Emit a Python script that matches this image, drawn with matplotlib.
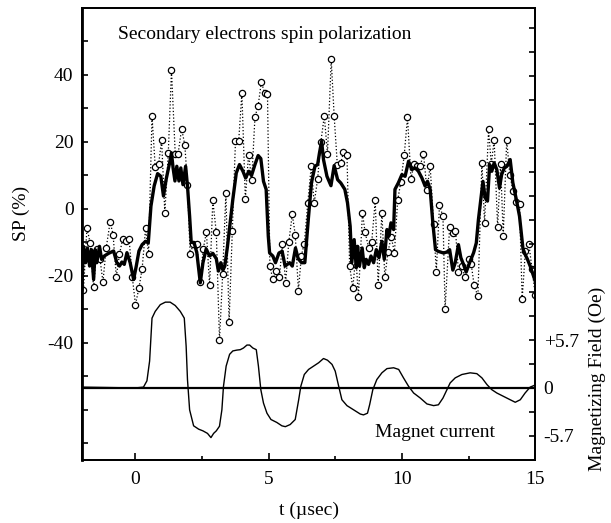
import numpy as np
import matplotlib
matplotlib.use("Agg")
import matplotlib.pyplot as plt

# measured spin polarization (dotted, open circles)
t_raw = [-1.94, -1.81, -1.69, -1.56, -1.44, -1.32, -1.21, -1.09, -0.94, -0.83,
         -0.71, -0.59, -0.47, -0.35, -0.23, -0.11, 0.01, 0.14, 0.26, 0.39,
         0.50, 0.63, 0.75, 0.88, 0.99, 1.11, 1.24, 1.36, 1.50, 1.61,
         1.74, 1.86, 1.96, 2.06, 2.18, 2.31, 2.43, 2.55, 2.67, 2.79,
         2.91, 3.04, 3.16, 3.28, 3.40, 3.52, 3.64, 3.76, 3.88, 4.00,
         4.13, 4.25, 4.37, 4.49, 4.61, 4.73, 4.85, 4.96, 5.05, 5.16,
         5.29, 5.41, 5.52, 5.64, 5.76, 5.89, 6.00, 6.12, 6.23, 6.34,
         6.47, 6.60, 6.71, 6.84, 6.96, 7.09, 7.21, 7.35, 7.46, 7.58,
         7.71, 7.81, 7.94, 8.04, 8.16, 8.27, 8.37, 8.52, 8.62, 8.76,
         8.87, 9.00, 9.11, 9.25, 9.36, 9.48, 9.60, 9.72, 9.84, 9.96,
         10.09, 10.21, 10.34, 10.46, 10.56, 10.69, 10.81, 10.94, 11.06, 11.19,
         11.29, 11.41, 11.54, 11.62, 11.79, 11.90, 12.01, 12.12, 12.25, 12.36,
         12.50, 12.60, 12.71, 12.85, 13.00, 13.10, 13.25, 13.35, 13.46, 13.59,
         13.70, 13.80, 13.93, 14.05, 14.17, 14.29, 14.41, 14.51, 14.63, 14.76,
         14.88, 15.00]
sp_raw = [-24.3, -5.7, -10.2, -23.5, -12.0, -15.0, -21.9, -11.8, -3.9, -7.7,
          -20.3, -13.6, -9.0, -9.7, -9.0, -20.3, -28.6, -23.6, -17.9, -5.8,
          -13.6, 27.7, 12.6, 13.5, 20.5, -1.2, 16.6, 41.4, 16.5, 16.5,
          23.9, 19.1, 7.2, -13.6, -10.4, -10.4, -22.0, -12.0, -7.0, -22.9,
          2.5, -7.0, -39.2, -19.4, 4.7, -33.9, -6.6, 20.3, 20.2, 34.6,
          3.0, 16.2, 8.7, 27.4, 30.8, 37.9, 34.6, 34.4, -17.1, -21.1,
          -18.6, -20.3, -10.4, -22.1, -9.8, -1.7, -7.7, -24.4, -14.0, -10.4,
          1.6, 12.7, 1.6, 8.9, 19.9, 27.7, 16.5, 44.6, 27.7, 13.0,
          13.7, 16.9, 16.2, -17.1, -23.6, -14.0, -26.3, -1.2, -7.0, -11.8,
          -9.8, 2.5, -22.7, -1.2, -20.4, -12.8, -8.4, -13.1, 2.5, 8.0,
          16.2, 27.4, 8.9, 13.5, 12.9, 12.9, 16.5, 5.6, 12.7, -4.4,
          -18.8, 1.1, -2.3, -29.9, -5.4, -7.2, -6.5, -18.9, -17.1, -20.4,
          -15.1, -16.6, -22.9, -26.1, 13.7, -4.2, 23.7, 13.4, 20.4, -5.4,
          13.5, -8.0, 20.4, 10.0, 5.3, 2.0, 1.5, -26.9, -12.7, -10.4,
          -18.1, -25.6]

# smoothed spin polarization (thick line)
t_avg = [-2.00, -1.94, -1.86, -1.79, -1.71, -1.64, -1.56, -1.50, -1.44, -1.34,
         -1.26, -1.16, -1.00, -0.81, -0.69, -0.59, -0.50, -0.41, -0.31, -0.19,
         -0.06, 0.04, 0.14, 0.26, 0.39, 0.49, 0.59, 0.71, 0.84, 0.96,
         1.06, 1.16, 1.29, 1.36, 1.42, 1.49, 1.56, 1.64, 1.71, 1.79,
         1.89, 1.96, 2.04, 2.10, 2.21, 2.31, 2.44, 2.54, 2.66, 2.79,
         2.91, 3.04, 3.12, 3.21, 3.29, 3.36, 3.46, 3.56, 3.66, 3.79,
         3.91, 4.04, 4.14, 4.26, 4.36, 4.49, 4.61, 4.71, 4.81, 4.91,
         4.99, 5.04, 5.16, 5.26, 5.39, 5.51, 5.62, 5.79, 5.89, 6.01,
         6.11, 6.24, 6.36, 6.49, 6.61, 6.74, 6.84, 6.91, 6.99, 7.06,
         7.19, 7.34, 7.46, 7.59, 7.71, 7.86, 7.96, 8.06, 8.12, 8.21,
         8.29, 8.34, 8.41, 8.51, 8.59, 8.66, 8.75, 8.84, 8.94, 9.04,
         9.14, 9.25, 9.34, 9.44, 9.51, 9.59, 9.69, 9.74, 9.87, 10.00,
         10.12, 10.25, 10.37, 10.50, 10.62, 10.75, 10.87, 10.96, 11.06, 11.16,
         11.26, 11.36, 11.56, 11.69, 11.79, 11.91, 12.00, 12.12, 12.21, 12.31,
         12.41, 12.54, 12.69, 12.79, 12.87, 12.96, 13.04, 13.12, 13.21, 13.29,
         13.37, 13.46, 13.56, 13.66, 13.74, 13.84, 13.94, 14.06, 14.16, 14.29,
         14.41, 14.54, 14.62, 14.71, 14.81, 15.00]
sp_avg = [-24.1, -11.2, -16.1, -11.7, -17.1, -12.2, -21.1, -12.2, -16.1, -11.2,
          -15.1, -14.1, -13.3, -12.6, -16.1, -17.1, -15.9, -16.6, -13.1, -16.1,
          -21.1, -17.1, -12.6, -10.7, -9.7, -10.2, 0.8, 6.8, 10.5, 9.7,
          3.8, 8.8, 13.7, 16.7, 12.2, 8.3, 12.7, 8.3, 12.2, 7.2,
          12.7, 6.8, -2.2, -10.0, -10.2, -13.1, -22.1, -16.1, -12.0, -14.1,
          -13.3, -14.9, -18.6, -16.1, -18.3, -17.1, -11.2, -4.2, 2.8, 10.7,
          13.2, 11.2, 9.2, 11.2, 9.9, 13.2, 15.9, 15.0, 8.2, 5.8,
          -8.2, -13.2, -14.1, -16.1, -13.2, -12.7, -17.1, -16.1, -17.1, -11.7,
          -14.9, -16.1, -16.1, -3.2, 7.8, 12.7, 13.2, 16.7, 20.2, 14.7,
          9.7, 6.9, 12.9, 8.7, 7.7, 5.8, 1.8, -5.2, -16.1, -9.2,
          -17.6, -11.2, -17.1, -11.7, -17.6, -15.1, -16.6, -14.1, -16.1, -12.2,
          -14.6, -9.7, -15.1, -6.2, -8.2, -4.2, -6.2, 5.8, 7.8, 10.2,
          9.7, 14.2, 11.7, 12.2, 11.2, 9.2, 6.8, 8.2, 5.8, -4.2,
          -12.2, -12.7, -13.2, -12.9, -12.2, -18.3, -16.1, -10.7, -14.6, -16.6,
          -18.9, -16.1, -13.1, -10.2, -3.2, 2.8, 8.2, 3.3, 2.3, 13.2,
          11.2, 13.7, 11.7, 6.2, 10.2, 12.2, 12.7, 14.7, 7.8, 2.8,
          -2.2, -11.9, -13.6, -15.1, -17.1, -21.6]

# magnetizing field (Oe), right axis
t_mag = [-2.0, -1.0, 0.0, 0.31, 0.44, 0.54, 0.63, 0.75, 0.94, 1.13,
         1.31, 1.50, 1.69, 1.84, 1.91, 1.96, 2.04, 2.19, 2.38, 2.54,
         2.71, 2.84, 2.94, 3.04, 3.16, 3.25, 3.31, 3.41, 3.54, 3.66,
         3.81, 3.94, 4.06, 4.19, 4.29, 4.41, 4.54, 4.62, 4.71, 4.81,
         4.94, 5.09, 5.31, 5.50, 5.63, 5.81, 6.00, 6.13, 6.21, 6.34,
         6.50, 6.69, 6.88, 7.06, 7.21, 7.38, 7.50, 7.63, 7.75, 7.94,
         8.19, 8.44, 8.56, 8.71, 8.79, 8.91, 9.06, 9.25, 9.44, 9.69,
         9.88, 10.06, 10.25, 10.44, 10.69, 10.94, 11.19, 11.37, 11.54, 11.69,
         11.81, 12.00, 12.25, 12.56, 12.81, 13.00, 13.19, 13.37, 13.56, 13.81,
         14.06, 14.25, 14.44, 14.62, 14.81, 14.96]
field = [0.1, 0.05, 0.0, 0.1, 0.85, 3.2, 8.3, 9.1, 9.9, 10.2,
         10.2, 9.8, 9.1, 8.3, 4.95, 0.99, -2.6, -4.5, -4.9, -5.1,
         -5.4, -5.9, -5.4, -5.1, -4.55, -2.6, 0.2, 2.6, 4.0, 4.4,
         4.5, 4.55, 4.75, 5.1, 5.1, 4.75, 4.55, 2.6, -0.2, -1.8,
         -3.0, -3.75, -4.1, -4.5, -4.6, -4.35, -3.75, -1.4, 0.2, 1.6,
         2.2, 2.6, 3.0, 3.5, 3.3, 2.8, 2.0, 0.2, -1.4, -2.1,
         -2.6, -3.1, -3.2, -3.0, -2.0, -0.2, 1.0, 1.8, 2.3, 2.4,
         2.2, 1.2, 0.2, -0.6, -1.2, -1.9, -2.1, -2.0, -1.2, -0.2,
         0.6, 1.2, 1.6, 1.8, 1.7, 1.2, 0.4, -0.2, -0.6, -1.0,
         -1.4, -1.7, -1.4, -0.6, 0.1, 0.3]

plt.rcParams['font.family'] = ['Liberation Serif', 'DejaVu Serif']
plt.rcParams['font.size'] = 14
plt.rcParams['axes.unicode_minus'] = False

fig = plt.figure(figsize=(6.11, 5.23), dpi=100)
ax = fig.add_axes([0.134, 0.1205, 0.742, 0.8645])

ax.plot(t_raw, sp_raw, ls=':', color='k', lw=0.9, marker='o', ms=4.5,
        mfc='white', mec='k', mew=0.9, zorder=2)
ax.plot(t_avg, sp_avg, color='k', lw=2.4, zorder=3)

ax.set_xlim(-2, 15)
ax.set_ylim(-75, 60)
ax.set_xticks([0, 5, 10, 15])
ax.set_xticks([2.5, 7.5, 12.5], minor=True)
ax.set_yticks([-40, -20, 0, 20, 40])
ax.set_yticks([-70, -60, -50, -30, -10, 10, 30, 50], minor=True)
ax.tick_params(which='both', direction='in', width=1.2)
ax.tick_params(axis='y', which='both', length=4, pad=6)
ax.tick_params(axis='x', which='major', length=5, pad=8)
ax.tick_params(axis='x', which='minor', length=3)
ax.set_xlabel('t (µsec)')
ax.xaxis.set_label_coords(0.5, -0.093)
ax.set_ylabel('SP (%)')
ax.yaxis.set_label_coords(-0.115, 0.546)
for s in ax.spines.values():
    s.set_linewidth(1.3)
ax.spines['left'].set_linewidth(2)

ax.text(4.87, 52, 'Secondary electrons spin polarization', ha='center', va='center')
ax.text(11.25, -66.8, 'Magnet current', ha='center', va='center')

# right axis: 0 Oe sits at SP = -53.5, 2.85 Oe per 7.16 SP units
ax2 = ax.twinx()
ax2.set_ylim(-8.56, 45.18)
ax2.plot(t_mag, field, color='k', lw=1.0)
ax2.axhline(0, color='k', lw=1.6)
ax2.set_yticks([-5.7, 0, 5.7])
ax2.set_yticklabels(['-5.7', '0', '+5.7'])
ax2.set_yticks(2.85 * np.array([-2, -1, 1, 3, 4, 5, 6, 7, 8, 9, 10, 11, 12, 13, 14, 15]), minor=True)
ax2.tick_params(which='both', direction='in', length=4, width=1.2, pad=6)
ax2.set_ylabel('Magnetizing Field (Oe)')
ax2.yaxis.set_label_coords(1.117, 0.18)
for s in ax2.spines.values():
    s.set_linewidth(1.3)

fig.savefig('out.png', dpi=100)
